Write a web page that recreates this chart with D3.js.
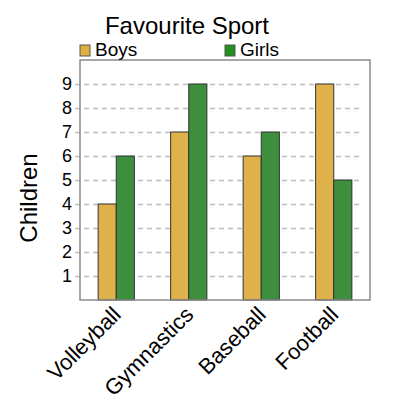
<!DOCTYPE html>
<html>
<head>
<meta charset="utf-8">
<script src="https://cdn.jsdelivr.net/npm/d3@7"></script>
<style>
  body { margin: 0; background: #fff; }
  svg { font-family: "Liberation Sans", Arial, sans-serif; }
</style>
</head>
<body>
<svg></svg>
<script>
let sports = ["Volleyball", "Gymnastics", "Baseball", "Football"];
let boys = [4, 7, 6, 9];
let girls = [6, 9, 7, 5];
let seriesNames = ["Boys", "Girls"];
let yTicks = [1, 2, 3, 4, 5, 6, 7, 8, 9];

let width = 400;
let height = 400;
let margin = {top: 60, right: 30, bottom: 100, left: 80};

let barColors = ["#dfb14b", "#3d8f3d"];
let legendColors = ["#dfb040", "#22901f"];

let svg = d3.select("svg")
            .attr("width", width)
            .attr("height", height);

let rows = sports.map((s, i) => ({sport: s, values: [boys[i], girls[i]]}));

let xScale = d3.scaleBand()
               .domain(sports)
               .range([margin.left, width - margin.right])
               .paddingInner(0.5)
               .paddingOuter(0.25);

let xInner = d3.scaleBand()
               .domain(seriesNames)
               .range([0, xScale.bandwidth()]);

let yScale = d3.scaleLinear()
               .domain([0, 10])
               .range([height - margin.bottom, margin.top]);

// dashed grid + y tick labels
let yAxis = d3.axisLeft(yScale)
              .tickValues(yTicks)
              .tickSize(-(width - margin.left - margin.right - 10))
              .tickPadding(8);

let gy = svg.append("g")
            .attr("transform", "translate(" + margin.left + ",0)")
            .call(yAxis);
gy.select(".domain").remove();
gy.selectAll(".tick line")
  .attr("stroke", "#bdbdbd")
  .attr("stroke-width", 1.5)
  .attr("stroke-dasharray", "5,4")
  .attr("x1", -5);
gy.selectAll(".tick text")
  .attr("font-size", 18)
  .attr("fill", "#000");

// bars
svg.append("g")
   .selectAll("g")
   .data(rows)
   .enter()
   .append("g")
   .attr("transform", d => "translate(" + xScale(d.sport) + ",0)")
   .selectAll("rect")
   .data(d => d.values)
   .enter()
   .append("rect")
   .attr("x", (v, i) => xInner(seriesNames[i]))
   .attr("width", xInner.bandwidth())
   .attr("y", v => yScale(v))
   .attr("height", v => yScale(0) - yScale(v))
   .attr("fill", (v, i) => barColors[i])
   .attr("stroke", "#333")
   .attr("stroke-width", 1);

// frame
svg.append("rect")
   .attr("x", margin.left)
   .attr("y", margin.top)
   .attr("width", width - margin.left - margin.right)
   .attr("height", height - margin.top - margin.bottom)
   .attr("fill", "none")
   .attr("stroke", "#8a8a8a")
   .attr("stroke-width", 1.5);

// x labels
let xAxis = d3.axisBottom(xScale).tickSize(0).tickPadding(0);
let gx = svg.append("g")
            .attr("transform", "translate(0," + (height - margin.bottom) + ")")
            .call(xAxis);
gx.select(".domain").remove();
gx.selectAll(".tick text")
  .attr("font-size", 22)
  .attr("fill", "#000")
  .attr("text-anchor", "end")
  .attr("dy", 0)
  .attr("transform", "translate(6,16) rotate(-45)");

// y title
svg.append("text")
   .attr("transform", "translate(37,198) rotate(-90)")
   .attr("text-anchor", "middle")
   .attr("font-size", 24)
   .text("Children");

// title
svg.append("text")
   .attr("x", 187)
   .attr("y", 34)
   .attr("text-anchor", "middle")
   .attr("font-size", 24)
   .text("Favourite Sport");

// legend
let legend = svg.append("g")
                .selectAll("g")
                .data(seriesNames)
                .enter()
                .append("g")
                .attr("transform", (d, i) => "translate(" + (80 + i * 145) + ",45)");
legend.append("rect")
      .attr("width", 10)
      .attr("height", 11)
      .attr("fill", (d, i) => legendColors[i])
      .attr("stroke", "#555")
      .attr("stroke-width", 1);
legend.append("text")
      .attr("x", 15)
      .attr("y", 11)
      .attr("font-size", 19)
      .text(d => d);
</script>
</body>
</html>
